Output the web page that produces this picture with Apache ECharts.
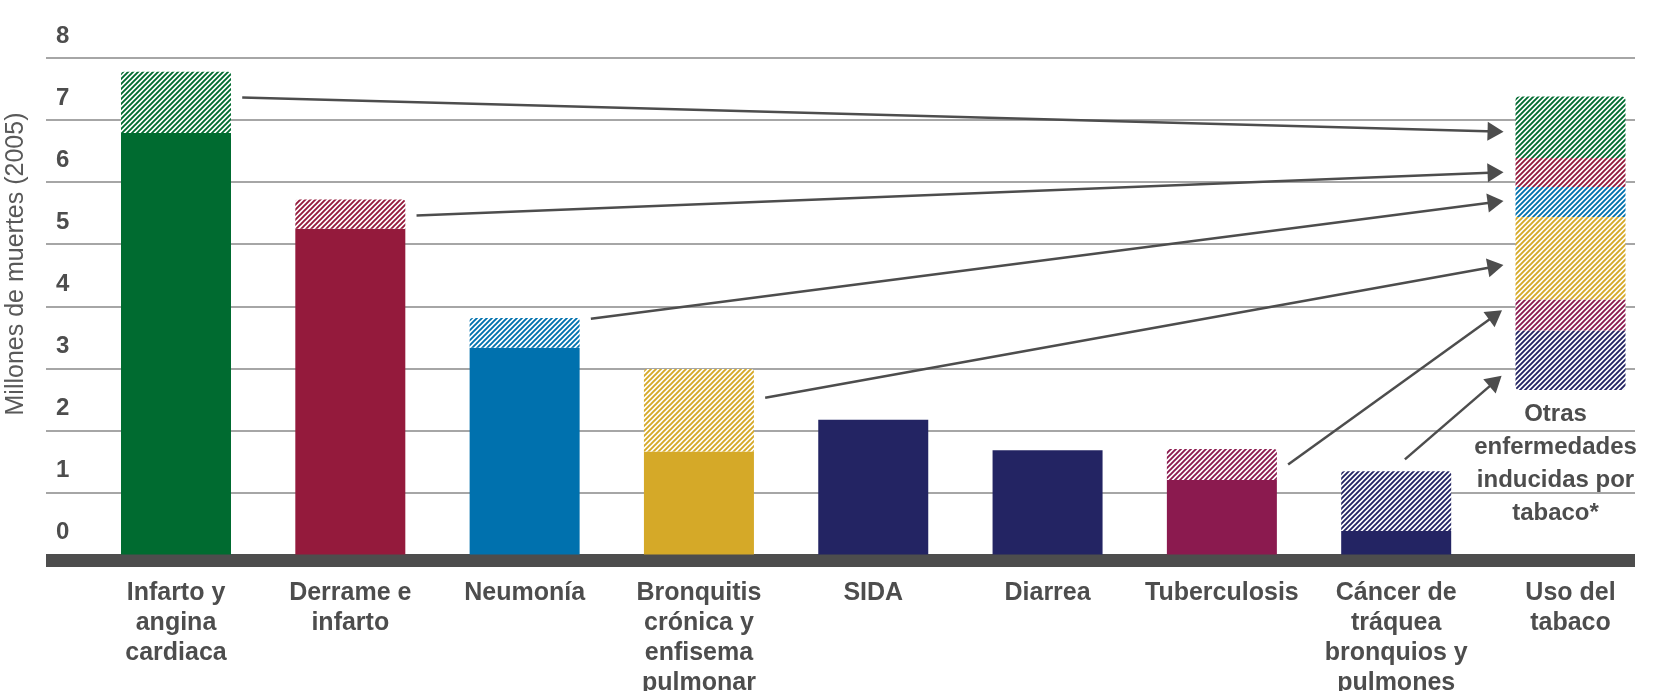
<!DOCTYPE html>
<html>
<head>
<meta charset="utf-8">
<title>Muertes y tabaco</title>
<script src="https://cdn.jsdelivr.net/npm/echarts@6/dist/echarts.min.js"></script>
<style>
  html, body { margin: 0; padding: 0; background: #fff; }
  #chart { width: 1654px; height: 691px; }
</style>
</head>
<body>
<div id="chart"></div>
<script>
// datos (millones de muertes, 2005)
const categories = ['Infarto y\nangina\ncardiaca', 'Derrame e\ninfarto', 'Neumonía',
  'Bronquitis\ncrónica y\nenfisema\npulmonar', 'SIDA', 'Diarrea', 'Tuberculosis',
  'Cáncer de\ntráquea\nbronquios y\npulmones', 'Uso del\ntabaco'];
const totalDeaths = [7.78, 5.72, 3.81, 2.99, 2.17, 1.68, 1.70, 1.34];
const tobaccoDeaths = [0.99, 0.47, 0.48, 1.33, 0, 0, 0.50, 0.96];
const otherTobaccoDeaths = 2.65;
const otherLabel = 'Otras\nenfermedades\ninducidas por\ntabaco*';
// orden de los tramos en la barra "Uso del tabaco", de abajo arriba
const stackOrder = [7, 6, 3, 2, 1, 0];
const yTicks = [0, 1, 2, 3, 4, 5, 6, 7, 8];
const yAxisTitle = 'Millones de muertes (2005)';

const colors = ['#006b30', '#941a3c', '#0071ae', '#d5a928', '#232463', '#232463', '#8b1a4f', '#232463'];
const FONT = '"Liberation Sans", Arial, sans-serif';
const TEXT = '#4d4d4d';

// trama rayada diagonal
function hatch(color) {
  const c = document.createElement('canvas');
  c.width = c.height = 5;
  const ctx = c.getContext('2d');
  ctx.fillStyle = '#fff';
  ctx.fillRect(0, 0, 5, 5);
  ctx.strokeStyle = color;
  ctx.lineWidth = 1.9;
  ctx.beginPath();
  ctx.moveTo(-1, 6); ctx.lineTo(6, -1);
  ctx.moveTo(-1, 1); ctx.lineTo(1, -1);
  ctx.moveTo(4, 6); ctx.lineTo(6, 4);
  ctx.stroke();
  return { image: c, repeat: 'repeat' };
}

const last = categories.length - 1;
const empty = () => categories.map(() => '-');

const solidData = empty();
const hatchData = empty();
totalDeaths.forEach((t, i) => {
  solidData[i] = { value: +(t - tobaccoDeaths[i]).toFixed(2), itemStyle: { color: colors[i] } };
  if (tobaccoDeaths[i] > 0) {
    hatchData[i] = { value: tobaccoDeaths[i], itemStyle: { color: hatch(colors[i]), borderRadius: [3, 3, 0, 0] } };
  }
});

const otherData = empty();
otherData[last] = {
  value: otherTobaccoDeaths,
  label: {
    show: true, position: 'insideTop', distance: 8, offset: [-15, 0],
    formatter: otherLabel, fontFamily: FONT, fontWeight: 'bold', fontSize: 24,
    lineHeight: 33, color: TEXT
  }
};

const series = [
  { name: 'solid', type: 'bar', xAxisIndex: 1, yAxisIndex: 1, stack: 'd', barWidth: 110, clip: false, data: solidData },
  { name: 'tabaco', type: 'bar', xAxisIndex: 1, yAxisIndex: 1, stack: 'd', barWidth: 110, clip: false, data: hatchData },
  { name: 'otras', type: 'bar', xAxisIndex: 1, yAxisIndex: 1, stack: 'd', barWidth: 110, clip: false,
    itemStyle: { color: 'rgba(0,0,0,0)' }, data: otherData }
];
stackOrder.forEach((k, n) => {
  const d = empty();
  const r = n === 0 ? [0, 0, 4, 4] : (n === stackOrder.length - 1 ? [4, 4, 0, 0] : 0);
  d[last] = { value: tobaccoDeaths[k], itemStyle: { color: hatch(colors[k]), borderRadius: r } };
  series.push({ name: 'uso-' + k, type: 'bar', xAxisIndex: 1, yAxisIndex: 1, stack: 'd', barWidth: 110, clip: false, data: d });
});

// flechas: desde cada causa hasta su tramo en "Uso del tabaco"
const fromFrac = { 0: 0.58, 1: 0.45, 2: 0.98, 3: 0.65, 6: 0.5, 7: 1.2 };
const toFrac = { 0: 0.43, 1: 0.5, 2: 0.5, 3: 0.4, 6: 0.5, 7: 0.15 };
let base = otherTobaccoDeaths;
const arrows = [];
stackOrder.forEach(k => {
  const solid = totalDeaths[k] - tobaccoDeaths[k];
  const y1 = solid + tobaccoDeaths[k] * fromFrac[k];
  const x1 = k === 7 ? k + 0.05 : k + 0.38;
  const y2 = base + tobaccoDeaths[k] * toFrac[k];
  arrows.push([{ coord: [x1, y1] }, { coord: [last - 0.43, y2] }]);
  base += tobaccoDeaths[k];
});
series.push({
  name: 'flechas', type: 'line', xAxisIndex: 0, yAxisIndex: 0, data: [],
  markLine: {
    silent: true, symbol: ['none', 'triangle'], symbolSize: [19, 16],
    label: { show: false },
    lineStyle: { color: TEXT, width: 2.5, type: 'solid' },
    data: arrows
  }
});

// la escala x del marco coincide con los centros de categoría
const unit = (1570.5 - 176) / last;

const chart = echarts.init(document.getElementById('chart'));
chart.setOption({
  animation: false,
  backgroundColor: '#fff',
  grid: [
    { left: 46, right: 19, top: 58, bottom: 136.5, outerBoundsMode: 'none' },
    { left: 176, right: 1654 - 1570.5, top: 58, bottom: 136.5, outerBoundsMode: 'none' },
    // franja gris oscura de la base
    { left: 46, right: 19, top: 554, bottom: 691 - 560.5, outerBoundsMode: 'none' }
  ],
  xAxis: [
    {
      gridIndex: 0, type: 'value', min: -(176 - 46) / unit, max: last + (1635 - 1570.5) / unit,
      axisLine: { show: false }, axisTick: { show: false }, axisLabel: { show: false }, splitLine: { show: false }
    },
    {
      gridIndex: 1, type: 'category', data: categories, boundaryGap: false,
      axisLine: { show: false }, axisTick: { show: false },
      axisLabel: {
        interval: 0, margin: 24, fontFamily: FONT, fontWeight: 'bold', fontSize: 25,
        lineHeight: 30, color: TEXT, align: 'center'
      }
    },
    {
      gridIndex: 2, type: 'value', min: 0, max: 1,
      axisLine: { show: true, lineStyle: { color: TEXT, width: 13, cap: 'butt' } },
      axisTick: { show: false }, axisLabel: { show: false }, splitLine: { show: false }
    }
  ],
  yAxis: [
    {
      gridIndex: 0, type: 'value', min: yTicks[0], max: yTicks[yTicks.length - 1], interval: 1,
      axisLine: { show: false }, axisTick: { show: false },
      splitLine: { lineStyle: { color: '#a6a6a6', width: 2 } },
      axisLabel: {
        inside: true, margin: 10, align: 'left', verticalAlign: 'bottom',
        padding: [0, 0, 10, 0], lineHeight: 24,
        fontFamily: FONT, fontWeight: 'bold', fontSize: 24, color: TEXT
      }
    },
    {
      gridIndex: 1, type: 'value', min: yTicks[0], max: yTicks[yTicks.length - 1],
      show: false, splitLine: { show: false }
    },
    { gridIndex: 2, type: 'value', show: false, splitLine: { show: false } }
  ],
  graphic: [{
    type: 'text', x: 16, y: 264, rotation: Math.PI / 2,
    style: { text: yAxisTitle, font: '25px ' + FONT, fill: '#595959', align: 'center', verticalAlign: 'middle' }
  }],
  series: series
});
</script>
</body>
</html>
